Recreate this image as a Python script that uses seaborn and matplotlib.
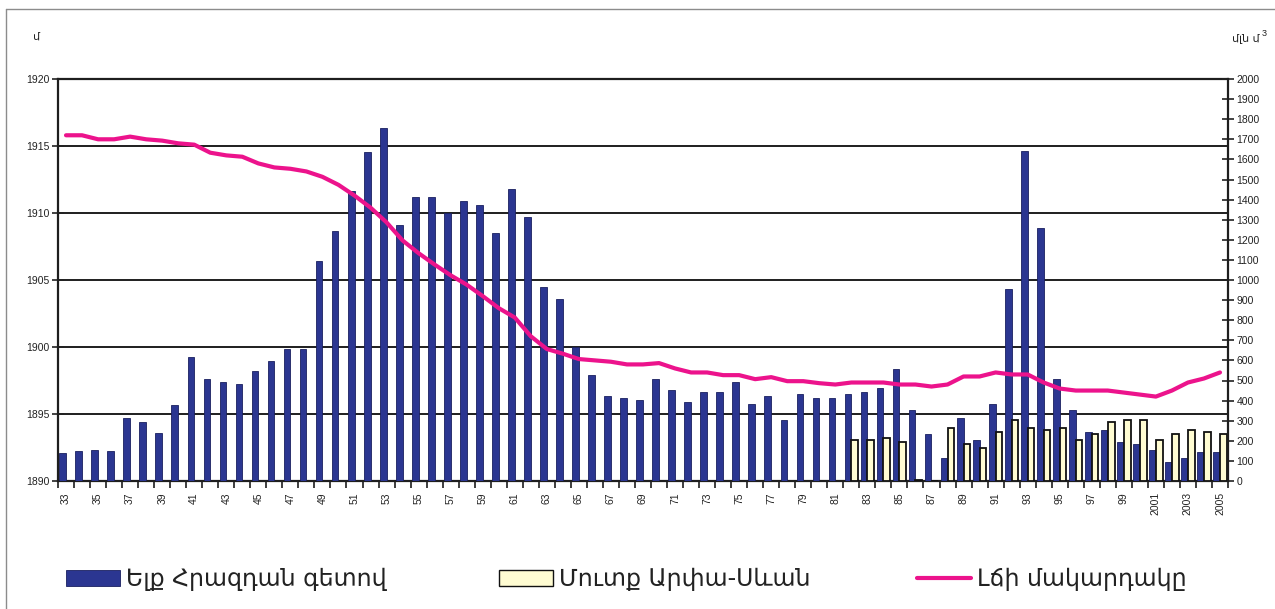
import numpy as np
import pandas as pd
import matplotlib
matplotlib.use("Agg")
import matplotlib.pyplot as plt
from matplotlib.patches import Patch
from matplotlib.lines import Line2D
import seaborn as sns

# Lake Sevan water balance, 1933-2005
years = list(range(1933, 2006))

# Outflow through the Hrazdan river, mln m3
outflow = [140, 150, 155, 150, 315, 295, 240, 380, 615, 505,
           495, 485, 545, 595, 655, 655, 1095, 1245, 1445, 1635,
           1755, 1275, 1415, 1415, 1335, 1395, 1375, 1235, 1455, 1315,
           965, 905, 665, 525, 425, 415, 405, 505, 455, 395,
           445, 445, 495, 385, 425, 305, 435, 415, 415, 435,
           445, 465, 555, 355, 235, 115, 315, 205, 385, 955,
           1640, 1260, 505, 355, 245, 255, 195, 185, 155, 95,
           115, 145, 145]

# Inflow through the Arpa-Sevan tunnel, mln m3
inflow_years = list(range(1982, 2006))
inflow = [205, 205, 215, 195, 5, 0, 265, 185, 165, 245,
          305, 265, 255, 265, 205, 235, 295, 305, 305, 205,
          235, 255, 245, 235]

# Lake level, m above sea level
level = [1915.8, 1915.8, 1915.5, 1915.5, 1915.7, 1915.5, 1915.4, 1915.2, 1915.1, 1914.5,
         1914.3, 1914.2, 1913.7, 1913.4, 1913.3, 1913.1, 1912.7, 1912.1, 1911.3, 1910.4,
         1909.3, 1907.95, 1907.0, 1906.15, 1905.35, 1904.65, 1903.8, 1902.9, 1902.2, 1900.8,
         1899.85, 1899.5, 1899.1, 1899.0, 1898.9, 1898.7, 1898.7, 1898.8, 1898.4, 1898.1,
         1898.1, 1897.9, 1897.9, 1897.6, 1897.75, 1897.45, 1897.45, 1897.3, 1897.2, 1897.35,
         1897.35, 1897.35, 1897.2, 1897.2, 1897.05, 1897.2, 1897.8, 1897.8, 1898.1, 1897.95,
         1897.95, 1897.35, 1896.9, 1896.75, 1896.75, 1896.75, 1896.6, 1896.45, 1896.3, 1896.75,
         1897.35, 1897.65, 1898.1]

series_out = "Ելք Հրազդան գետով"
series_in = "Մուտք Արփա-Սևան"
series_level = "Լճի մակարդակը"

year_labels = [(str(y)[2:] if y < 2000 else str(y)) if y % 2 == 1 else "" for y in years]

color_out = "#2B3691"
color_in = "#FFFCD2"
color_level = "#EC138C"

sns.set_style("white")
plt.rcParams["font.family"] = ["Liberation Sans", "DejaVu Sans"]

df = pd.concat([
    pd.DataFrame({"year": years, "value": outflow, "series": series_out}),
    pd.DataFrame({"year": inflow_years, "value": inflow, "series": series_in}),
], ignore_index=True)

fig = plt.figure(figsize=(12.75, 6.09), dpi=100)
W, H = 1275, 609
ax_level = fig.add_axes([58 / W, 128 / H, 1170 / W, 402 / H])
ax_bars = ax_level.twinx()
ax_line = ax_level.twinx()

# Bars on the right-hand scale
sns.barplot(data=df, x="year", y="value", hue="series", order=years,
            hue_order=[series_out, series_in],
            palette={series_out: color_out, series_in: color_in},
            width=0.84, gap=0, dodge=True, saturation=1, errorbar=None,
            legend=False, ax=ax_bars)
for cont, ec, lw in zip(ax_bars.containers, ["#1a2060", "#111111"], [0.6, 1.3]):
    for bar in cont:
        bar.set_edgecolor(ec)
        bar.set_linewidth(lw)

# Lake level line on the left-hand scale
pos = np.arange(len(years))
sns.lineplot(x=pos, y=level, color=color_level, linewidth=3.0, ax=ax_line,
             solid_capstyle="round", solid_joinstyle="round")

n = len(years)
for a in (ax_level, ax_bars, ax_line):
    a.set_xlim(-0.5, n - 0.5)
    a.set_xlabel("")
    a.set_ylabel("")

ax_level.set_ylim(1890, 1920)
ax_line.set_ylim(1890, 1920)
ax_bars.set_ylim(0, 2000)

# Left axis and grid
ax_level.set_yticks(np.arange(1890, 1921, 5))
ax_level.yaxis.grid(True, color="#1e1e1e", linewidth=1.4)
ax_level.xaxis.grid(False)
ax_level.tick_params(axis="y", direction="inout", length=8, width=1.2,
                     labelsize=7.5, pad=2, colors="#222222", left=True)
for s in ("left", "bottom", "top"):
    ax_level.spines[s].set_visible(True)
    ax_level.spines[s].set_color("#1e1e1e")
    ax_level.spines[s].set_linewidth(1.6)
ax_level.spines["right"].set_visible(False)

# x ticks: labels at category centres, tick marks at boundaries
ax_level.set_xticks(pos)
ax_level.set_xticklabels(year_labels, rotation=90, fontsize=7.5, color="#222222")
ax_level.set_xticks(np.arange(-0.5, n, 1.0), minor=True)
ax_level.tick_params(axis="x", which="major", length=0, pad=8)
ax_level.tick_params(axis="x", which="minor", direction="out", length=5,
                     width=1.2, color="#1e1e1e", bottom=True)

# Right axis
ax_bars.set_yticks(np.arange(0, 2001, 100))
ax_bars.tick_params(axis="y", direction="inout", length=8, width=1.2,
                    labelsize=7.5, pad=2, colors="#222222", right=True)
for s in ("left", "bottom", "top"):
    ax_bars.spines[s].set_visible(False)
ax_bars.spines["right"].set_visible(True)
ax_bars.spines["right"].set_color("#1e1e1e")
ax_bars.spines["right"].set_linewidth(1.6)
ax_bars.grid(False)

ax_line.set_yticks([])
for s in ax_line.spines.values():
    s.set_visible(False)
ax_line.grid(False)

# Unit labels
unit_font = ["DejaVu Sans", "Liberation Sans"]
fig.text(36 / W, 1 - 37 / H, "մ", fontsize=8, ha="center", va="center",
         color="#222222", family=unit_font)
fig.text(1246 / W, 1 - 39 / H, "մլն մ", fontsize=8, ha="center", va="center",
         color="#222222", family=unit_font)
fig.text(1264 / W, 1 - 34 / H, "3", fontsize=6.5, ha="center", va="center",
         color="#222222")

# Outer frame
fig.add_artist(Line2D([6 / W, 6 / W], [0, 1 - 9 / H], color="#8c8c8c", linewidth=1.0))
fig.add_artist(Line2D([6 / W, 1], [1 - 9 / H, 1 - 9 / H], color="#8c8c8c", linewidth=1.0))

# Legend: one entry per block, each starting at its own x position
leg_fs = 17
handles = [
    Patch(facecolor=color_out, edgecolor="#1a2060", linewidth=0.6),
    Patch(facecolor=color_in, edgecolor="#111111", linewidth=1.0),
    Line2D([0], [0], color=color_level, linewidth=3.0),
]
labels = [series_out, series_in, series_level]
starts = [66, 499, 917]
for h, lab, x0 in zip(handles, labels, starts):
    leg = fig.legend([h], [lab], loc="center left",
                     bbox_to_anchor=(x0 / W, 1 - 579 / H),
                     frameon=False, fontsize=leg_fs, handlelength=2.3,
                     handleheight=0.68, handletextpad=0.25,
                     borderpad=0, borderaxespad=0)
    for t in leg.get_texts():
        t.set_color("#222222")
        t.set_fontfamily(["DejaVu Sans"])

fig.savefig("out.png", dpi=100)
